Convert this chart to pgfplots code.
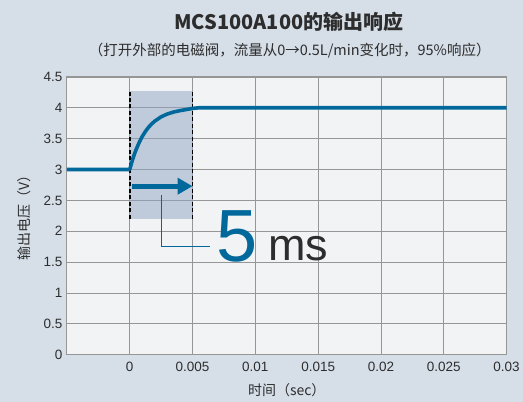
\documentclass[border=0pt]{standalone}
\usepackage{fontspec}
\setmainfont{Liberation Sans}
\newfontfamily\cjk{Noto Sans CJK SC}
\usepackage{pgfplots}
\pgfplotsset{compat=1.18}
\usetikzlibrary{arrows.meta}
\definecolor{bgc}{RGB}{214,222,232}
\definecolor{plotbg}{RGB}{242,243,245}
\definecolor{curve}{RGB}{0,104,154}
\definecolor{rectc}{RGB}{142,165,195}
\definecolor{gridc}{RGB}{150,150,150}
\definecolor{txt}{RGB}{45,45,45}
\begin{document}
\begin{tikzpicture}
\fill[bgc] (0pt,0pt) rectangle (523pt,402pt);
\node[txt] at (289pt,380pt) {\cjk\bfseries\fontsize{20}{24}\selectfont MCS100A100的输出响应};
\node[txt] at (290pt,351pt) {\cjk\fontsize{14.5}{17}\selectfont （打开外部的电磁阀，流量从0→0.5L/min变化时，95\%响应）};
\node[txt,rotate=90] at (24pt,187pt) {\cjk\fontsize{14}{17}\selectfont 输出电压（V）};
\node[txt] at (287pt,11pt) {\cjk\fontsize{14}{17}\selectfont 时间（sec）};
\begin{axis}[
  at={(67pt,47pt)}, anchor=south west,
  scale only axis, width=440pt, height=278pt,
  xmin=-0.005, xmax=0.03, ymin=0, ymax=4.5,
  xtick={0,0.005,0.01,0.015,0.02,0.025,0.03},
  xticklabels={0,0.005,0.01,0.015,0.02,0.025,0.03},
  ytick={0,0.5,1,1.5,2,2.5,3,3.5,4,4.5},
  yticklabels={0,0.5,1,1.5,2,2.5,3,3.5,4,4.5},
  scaled x ticks=false,
  grid=major,
  grid style={gridc, line width=0.8pt},
  axis line style={gridc, line width=0.9pt},
  major tick length=0pt,
  axis background/.style={fill=plotbg},
  tick label style={font=\fontsize{13.5}{16}\selectfont, text=txt},
  /pgf/number format/assume math mode=true,
  xticklabel style={yshift=-4pt},
  yticklabel style={xshift=-1pt},
  clip=false,
]
\fill[rectc, fill opacity=0.5] (axis cs:0,2.2) rectangle (axis cs:0.005,4.27);
\draw[black, line width=1.7pt, dash pattern=on 4pt off 2.5pt] (axis cs:0,2.2) -- (axis cs:0,4.27);
\draw[black, line width=1.7pt, dash pattern=on 4pt off 2.5pt] (axis cs:0.005,2.2) -- (axis cs:0.005,4.27);
\addplot[curve, line width=3.6pt, no marks, line join=round] coordinates {
(-0.005,3.0) (0,3.0) (0.0001,3.074) (0.0002,3.142) (0.0003,3.206) (0.0004,3.265)
(0.0005,3.319) (0.00075,3.438) (0.001,3.537) (0.00125,3.618) (0.0015,3.685)
(0.00175,3.740) (0.002,3.785) (0.0025,3.854) (0.003,3.900) (0.0035,3.932)
(0.004,3.954) (0.0045,3.972) (0.005,3.99) (0.0055,4.0) (0.03,4.0)
};
\draw[curve, line width=5pt, -{Triangle[length=15pt,width=16pt]}] (axis cs:0.0002,2.73) -- (axis cs:0.005,2.73);
\draw[curve, line width=0.9pt] (axis cs:0.0025,2.59) -- (axis cs:0.0025,1.75) -- (axis cs:0.0064,1.75);
\node[anchor=base west, inner sep=0pt, text=curve] at (axis cs:0.0069,1.505) {\fontsize{74}{80}\selectfont 5};
\node[anchor=base west, inner sep=0pt, text=txt] at (axis cs:0.0110,1.53) {\fontsize{45}{50}\selectfont ms};
\end{axis}
\end{tikzpicture}
\end{document}
